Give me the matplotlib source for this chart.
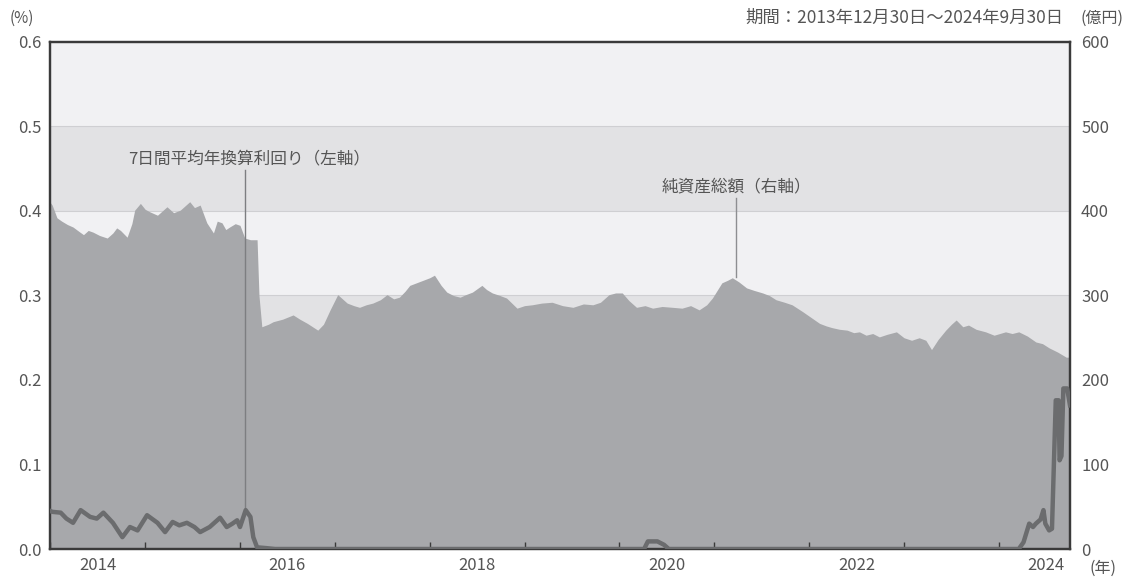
import numpy as np
import matplotlib.pyplot as plt

plt.rcParams['font.family'] = ['Noto Sans CJK JP', 'DejaVu Sans']

# net assets (right axis, 億円) - x in decimal years
asset_x = [2014.00, 2014.02, 2014.07, 2014.12, 2014.18, 2014.24, 2014.30, 2014.35, 2014.40,
           2014.45, 2014.52, 2014.60, 2014.66, 2014.70, 2014.74, 2014.81, 2014.86, 2014.89,
           2014.95, 2015.00, 2015.05, 2015.13, 2015.18, 2015.23, 2015.30, 2015.37, 2015.42,
           2015.47, 2015.52, 2015.58, 2015.65, 2015.72, 2015.76, 2015.81, 2015.85, 2015.89,
           2015.95, 2016.00, 2016.05, 2016.11, 2016.18, 2016.20, 2016.23, 2016.30, 2016.35,
           2016.45, 2016.56, 2016.63, 2016.71, 2016.82, 2016.88, 2016.95, 2017.03, 2017.08,
           2017.13, 2017.20, 2017.26, 2017.33, 2017.40, 2017.48, 2017.55, 2017.62, 2017.68,
           2017.74, 2017.79, 2017.86, 2017.93, 2018.00, 2018.05, 2018.12, 2018.18, 2018.25,
           2018.32, 2018.38, 2018.45, 2018.55, 2018.60, 2018.66, 2018.74, 2018.81, 2018.92,
           2019.00, 2019.08, 2019.18, 2019.29, 2019.40, 2019.51, 2019.62, 2019.72, 2019.80,
           2019.89, 2019.96, 2020.03, 2020.10, 2020.18, 2020.27, 2020.35, 2020.45, 2020.56,
           2020.66, 2020.75, 2020.84, 2020.92, 2020.98, 2021.08, 2021.14, 2021.19, 2021.26,
           2021.34, 2021.42, 2021.51, 2021.58, 2021.65, 2021.74, 2021.82, 2021.93, 2022.02,
           2022.11, 2022.18, 2022.24, 2022.32, 2022.40, 2022.47, 2022.53, 2022.60, 2022.67,
           2022.74, 2022.82, 2022.92, 2023.00, 2023.08, 2023.16, 2023.23, 2023.29, 2023.36,
           2023.44, 2023.50, 2023.55, 2023.62, 2023.68, 2023.76, 2023.86, 2023.95, 2024.07,
           2024.14, 2024.21, 2024.30, 2024.39, 2024.46, 2024.53, 2024.62, 2024.71, 2024.75]
asset_val = [410, 407, 392, 388, 384, 381, 376, 372, 377,
             375, 371, 368, 374, 380, 377, 369, 385, 401,
             409, 402, 399, 395, 400, 405, 398, 401, 406,
             411, 404, 407, 386, 374, 388, 386, 378, 381,
             385, 383, 368, 366, 366, 300, 263, 266, 269,
             272, 277, 272, 267, 259, 266, 283, 301, 296,
             291, 288, 286, 289, 291, 295, 301, 296, 298,
             305, 312, 315, 318, 321, 324, 312, 304, 300,
             298, 301, 304, 312, 307, 303, 300, 297, 285,
             288, 289, 291, 292, 288, 286, 290, 289, 292,
             301, 303, 303, 294, 286, 288, 285, 287, 286,
             285, 288, 283, 289, 297, 315, 318, 321, 316,
             309, 306, 303, 300, 295, 292, 289, 281, 274,
             267, 264, 262, 260, 259, 256, 257, 253, 255,
             251, 254, 257, 250, 247, 250, 247, 236, 248,
             259, 266, 271, 263, 265, 260, 257, 253, 257,
             255, 257, 252, 245, 243, 238, 233, 227, 227]

# 7-day average annualized yield (left axis, %)
yield_x = [2014.00, 2014.02, 2014.11, 2014.17, 2014.24, 2014.32, 2014.42, 2014.49, 2014.56,
           2014.66, 2014.76, 2014.84, 2014.92, 2015.02, 2015.13, 2015.21, 2015.29, 2015.36,
           2015.44, 2015.52, 2015.58, 2015.68, 2015.79, 2015.86, 2015.92, 2015.97, 2016.00,
           2016.06, 2016.11, 2016.14, 2016.18, 2016.28, 2016.37, 2020.26, 2020.30, 2020.40,
           2020.47, 2020.52, 2024.21, 2024.26, 2024.32, 2024.36, 2024.39, 2024.44, 2024.47,
           2024.49, 2024.53, 2024.56, 2024.58, 2024.60, 2024.63, 2024.64, 2024.66, 2024.68,
           2024.72, 2024.75]
yield_val = [0.045, 0.044, 0.043, 0.036, 0.031, 0.046, 0.038, 0.036, 0.043,
             0.031, 0.014, 0.026, 0.022, 0.040, 0.031, 0.020, 0.032, 0.028,
             0.031, 0.026, 0.020, 0.026, 0.037, 0.026, 0.030, 0.034, 0.026,
             0.046, 0.038, 0.014, 0.002, 0.001, 0.0, 0.0, 0.009, 0.009,
             0.005, 0.0, 0.0, 0.008, 0.030, 0.026, 0.030, 0.035, 0.046,
             0.030, 0.022, 0.024, 0.100, 0.176, 0.176, 0.105, 0.110, 0.190,
             0.190, 0.170]

years = list(range(2014, 2025))
year_labels = ['2014', '2016', '2018', '2020', '2022', '2024']

fig = plt.figure(figsize=(11.29, 5.81), dpi=100)
ax = fig.add_axes([50 / 1129, 1 - 549 / 581, 1020 / 1129, 507 / 581])
ax2 = ax.twinx()

x0, x1 = 2013.997, 2024.75
ax.set_xlim(x0, x1)
ax.set_ylim(0, 0.6)
ax2.set_ylim(0, 600)

# yield axis on top, transparent; bands + area live on the right axis
ax.set_zorder(2)
ax.patch.set_visible(False)
ax2.set_zorder(1)

light, dark = '#f1f1f3', '#e2e2e4'
for i, lo in enumerate(range(0, 600, 100)):
    c = light if i % 2 == 1 else dark
    ax2.axhspan(lo, lo + 100, color=c, zorder=0, lw=0)
for b in [300, 400, 500]:
    ax2.axhline(b, color='#cfcfd2', lw=0.8, zorder=0.5)

ax2.fill_between(asset_x, asset_val, 0, color='#a7a8ab', lw=0, zorder=1)

ax.plot(yield_x, yield_val, color='#6b6c6e', lw=3.2, solid_joinstyle='round', zorder=3)

# annotation lines
ax.plot([2016.05, 2016.05], [0.046, 0.448], color='#7d7e81', lw=1, zorder=2.5)
ax2.plot([2021.23, 2021.23], [322, 415], color='#8d8e91', lw=1, zorder=2)
ax.text(2016.1, 0.452, '7日間平均年換算利回り（左軸）', ha='center', va='bottom',
        fontsize=12, color='#555555')
ax2.text(2021.23, 418, '純資産総額（右軸）', ha='center', va='bottom',
         fontsize=12, color='#555555', zorder=3)

# axes styling
for a in (ax, ax2):
    for s in a.spines.values():
        s.set_color('#3a3a3a')
        s.set_linewidth(1.6)
ax.set_yticks(np.arange(0, 0.61, 0.1))
ax.set_yticklabels(['%.1f' % v for v in np.arange(0, 0.61, 0.1)])
ax2.set_yticks(np.arange(0, 601, 100))
ax.tick_params(axis='y', length=0, labelsize=12, labelcolor='#555555', pad=6)
ax2.tick_params(axis='y', length=0, labelsize=12, labelcolor='#555555', pad=8)

ax.set_xticks(years)
ax.set_xticklabels([''] * len(years))
ax.set_xticks([int(y) + 0.5 for y in year_labels], minor=True)
ax.set_xticklabels(year_labels, minor=True)
ax.tick_params(axis='x', which='major', direction='in', length=5, width=1, color='#3a3a3a')
ax.tick_params(axis='x', which='minor', length=0, labelsize=12, labelcolor='#555555', pad=6)

fig.text(22 / 1129, 1 - 18 / 581, '(%)', ha='center', va='center', fontsize=11, color='#555555')
fig.text(1063 / 1129, 1 - 18 / 581, '期間：2013年12月30日～2024年9月30日', ha='right', va='center',
         fontsize=12.5, color='#555555')
fig.text(1102 / 1129, 1 - 18 / 581, '(億円)', ha='center', va='center', fontsize=11.5, color='#555555')
fig.text(1103 / 1129, 1 - 568 / 581, '(年)', ha='center', va='center', fontsize=11.5, color='#555555')

fig.savefig('out.png', dpi=100, facecolor='white')
